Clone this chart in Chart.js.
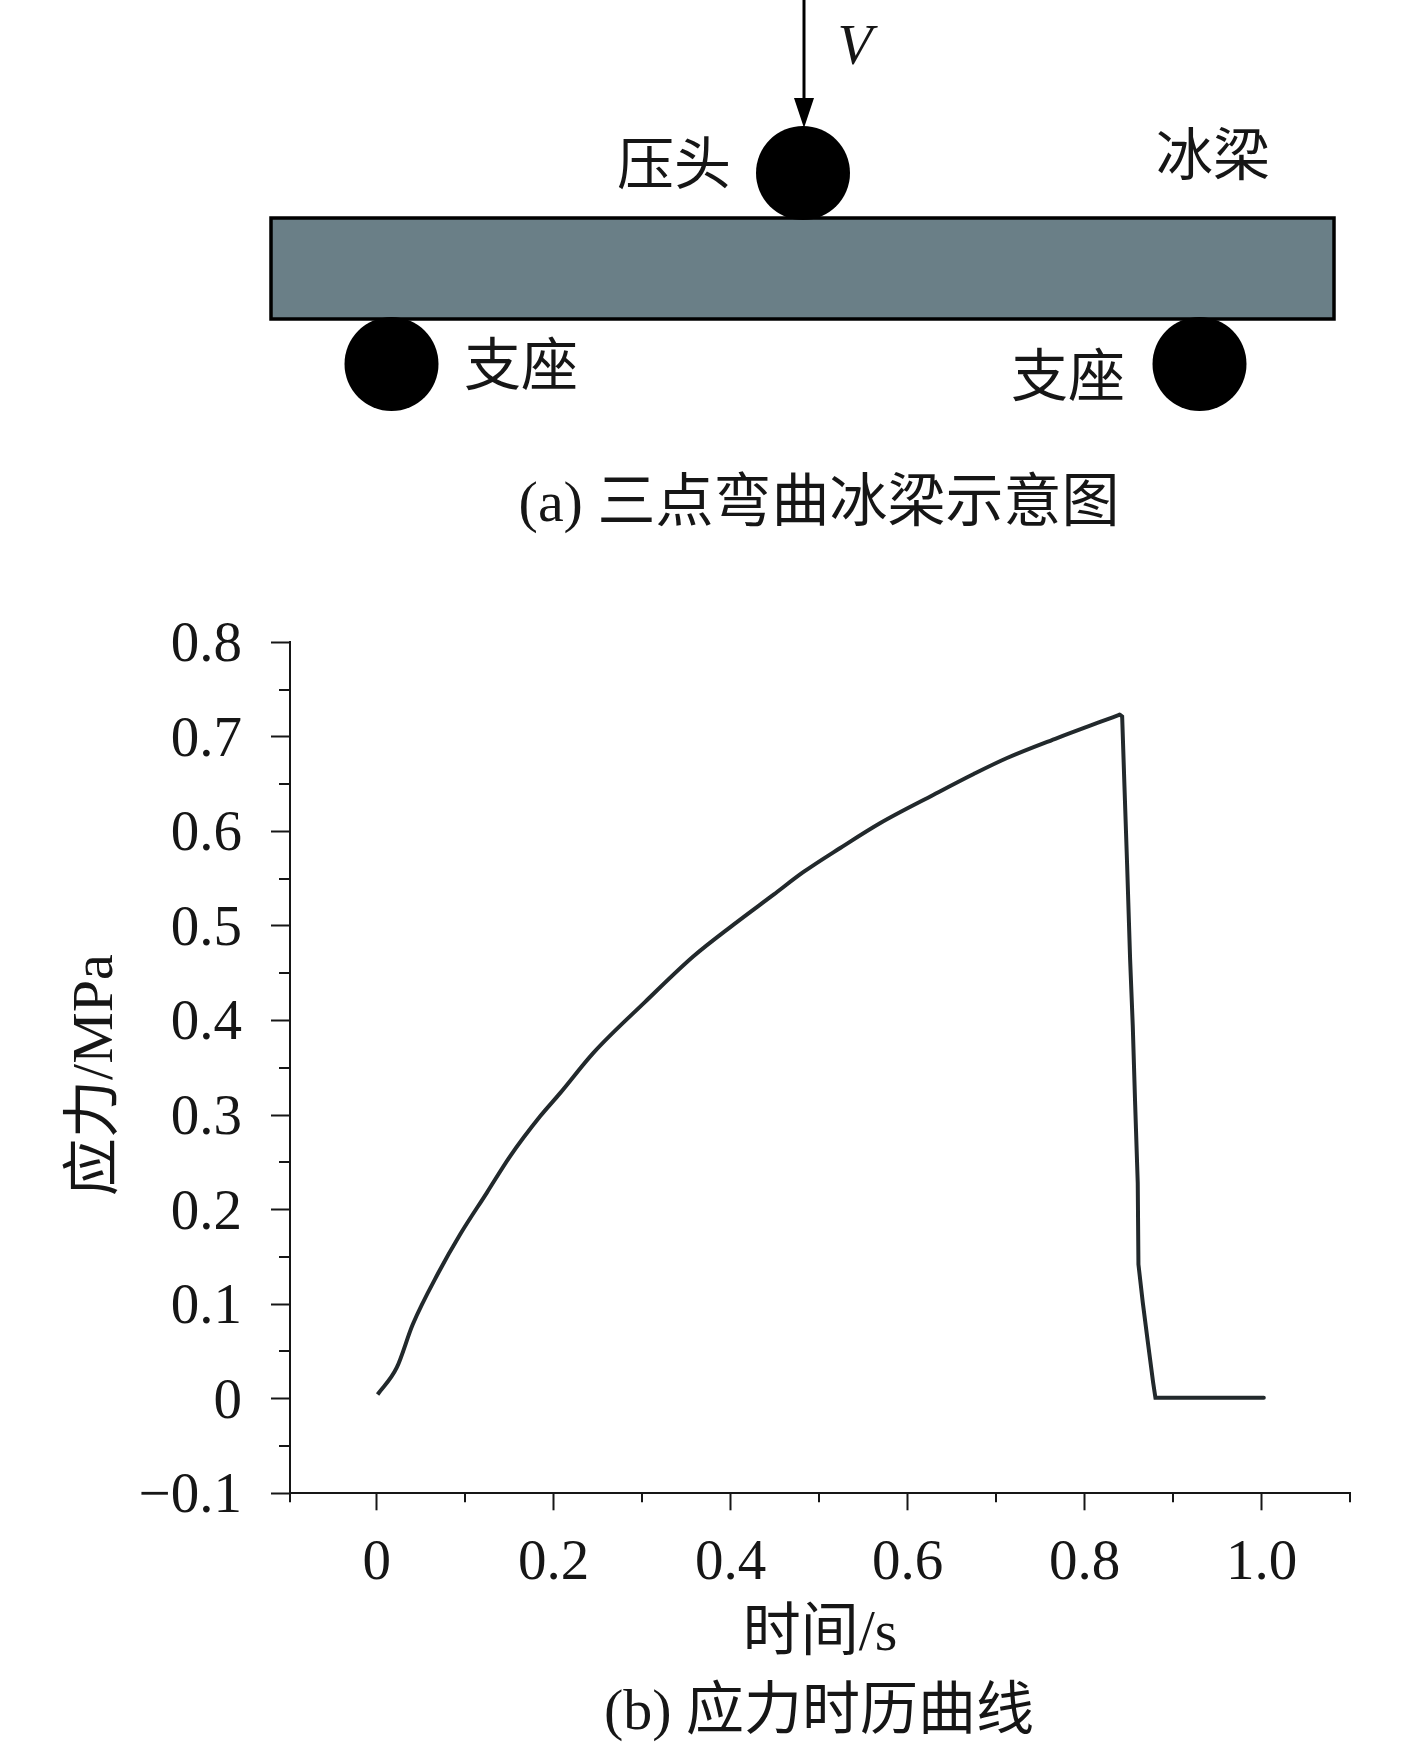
<!DOCTYPE html>
<html>
<head>
<meta charset="utf-8">
<title>三点弯曲冰梁</title>
<script src="https://cdn.jsdelivr.net/npm/chart.js@4/dist/chart.umd.js"></script>
<style>
  html, body { margin: 0; padding: 0; background: #fff; }
  canvas { display: block; }
</style>
</head>
<body>
<canvas id="chart" width="1417" height="1750"></canvas>
<script>
// Values, loading part up to the peak
const riseTimes = [0.001, 0.0226, 0.0407, 0.0697, 0.0942, 0.1244, 0.1507, 0.1847, 0.2073, 0.2449,
  0.3034, 0.358, 0.4033, 0.4485, 0.4824, 0.5239, 0.5692, 0.6294, 0.6747, 0.7124,
  0.769, 0.816, 0.8398];
const riseStress = [0.0045, 0.0328, 0.0785, 0.1332, 0.1737, 0.2178, 0.2564, 0.2987, 0.3232, 0.3658,
  0.4197, 0.4679, 0.5014, 0.5331, 0.5571, 0.5825, 0.6089, 0.6388, 0.6607, 0.6776,
  0.6987, 0.7152, 0.7234];

// Fracture drop after the peak and the flat tail
const dropTimes = [0.8398, 0.8425, 0.8451, 0.8481, 0.8515, 0.8545, 0.8572, 0.8601,
  0.8609, 0.8658, 0.8714, 0.8775, 0.8801, 1.0026];
const dropStress = [0.7234, 0.7216, 0.6476, 0.5648, 0.4644, 0.3939, 0.3111, 0.2283,
  0.142, 0.1018, 0.0609, 0.0172, 0.001, 0.001];

// Axis ticks
const xMajorTicks = [0, 0.2, 0.4, 0.6, 0.8, 1.0];
const xTickLabels = ['0', '0.2', '0.4', '0.6', '0.8', '1.0'];
const xMinorTicks = [-0.098, 0.1, 0.3, 0.5, 0.7, 0.9, 1.1];
const yMajorTicks = [-0.1, 0, 0.1, 0.2, 0.3, 0.4, 0.5, 0.6, 0.7, 0.8];
const yTickLabels = ['−0.1', '0', '0.1', '0.2', '0.3', '0.4', '0.5', '0.6', '0.7', '0.8'];
const yMinorTicks = [-0.05, 0.05, 0.15, 0.25, 0.35, 0.45, 0.55, 0.65, 0.75];

const FONT = '"Liberation Serif", "Noto Sans CJK SC", serif';
const FONT_SIZE = 57;
const TITLE_SIZE = 58;
const INK = '#161616';
const CURVE = '#22292c';

// Texts of the figure that are not part of the axes
const figureLabels = [
  { text: '压头', x: 674, y: 169, size: FONT_SIZE },
  { text: '冰梁', x: 1213, y: 160, size: FONT_SIZE },
  { text: '支座', x: 521, y: 370, size: FONT_SIZE },
  { text: '支座', x: 1068, y: 381, size: FONT_SIZE },
  { text: '(a) 三点弯曲冰梁示意图', x: 819, y: 506, size: TITLE_SIZE },
  { text: '(b) 应力时历曲线', x: 819, y: 1714, size: TITLE_SIZE }
];

function toPoints(xs, ys) {
  return xs.map(function(x, i) { return { x: x, y: ys[i] }; });
}

// Draws the beam schematic above the chart
function drawSchematic(ctx) {
  ctx.fillStyle = '#6a7f87';
  ctx.strokeStyle = '#000';
  ctx.lineWidth = 3.5;
  ctx.fillRect(271, 218, 1063, 101);
  ctx.strokeRect(271, 218, 1063, 101);

  ctx.fillStyle = '#000';
  [[803, 173], [391.5, 364], [1199.5, 364]].forEach(function(c) {
    ctx.beginPath();
    ctx.arc(c[0], c[1], 47, 0, Math.PI * 2);
    ctx.fill();
  });

  // loading arrow
  ctx.lineWidth = 3;
  ctx.beginPath();
  ctx.moveTo(804, 0);
  ctx.lineTo(804, 100);
  ctx.stroke();
  ctx.beginPath();
  ctx.moveTo(794, 98);
  ctx.lineTo(814, 98);
  ctx.lineTo(804, 128);
  ctx.closePath();
  ctx.fill();

  ctx.fillStyle = INK;
  ctx.textAlign = 'center';
  ctx.textBaseline = 'middle';
  ctx.font = 'italic ' + FONT_SIZE + 'px ' + FONT;
  ctx.fillText('V', 855, 49);
  figureLabels.forEach(function(l) {
    ctx.font = l.size + 'px ' + FONT;
    ctx.fillText(l.text, l.x, l.y);
  });
}

// Chart.js has one tick length per axis, so the short ticks are added here
function drawMinorTicks(ctx, chart) {
  const xScale = chart.scales.x;
  const yScale = chart.scales.y;
  ctx.strokeStyle = INK;
  ctx.lineWidth = 2;
  ctx.beginPath();
  xMinorTicks.forEach(function(v) {
    const px = Math.round(xScale.getPixelForValue(v));
    ctx.moveTo(px, xScale.top);
    ctx.lineTo(px, xScale.top + 9);
  });
  yMinorTicks.forEach(function(v) {
    const py = Math.round(yScale.getPixelForValue(v));
    ctx.moveTo(yScale.right, py);
    ctx.lineTo(yScale.right - 11, py);
  });
  ctx.stroke();
}

const figurePlugin = {
  id: 'figure',
  afterDraw: function(chart) {
    const ctx = chart.ctx;
    ctx.save();
    drawMinorTicks(ctx, chart);
    drawSchematic(ctx);
    ctx.restore();
  }
};

new Chart(document.getElementById('chart'), {
  type: 'scatter',
  data: {
    datasets: [{
      // smooth rise, kept apart so the corner at the peak stays sharp
      data: toPoints(riseTimes, riseStress),
      showLine: true,
      borderColor: CURVE,
      borderWidth: 4,
      pointRadius: 0,
      cubicInterpolationMode: 'monotone'
    }, {
      data: toPoints(dropTimes, dropStress),
      showLine: true,
      borderColor: CURVE,
      borderWidth: 4,
      borderCapStyle: 'round',
      pointRadius: 0,
      tension: 0
    }]
  },
  options: {
    responsive: false,
    animation: false,
    layout: { padding: { left: 0, top: 642.3, right: 67, bottom: 0 } },
    plugins: { legend: { display: false }, tooltip: { enabled: false } },
    scales: {
      x: {
        type: 'linear',
        min: -0.098,
        max: 1.1,
        afterBuildTicks: function(axis) {
          axis.ticks = xMajorTicks.map(function(v) { return { value: v }; });
        },
        afterFit: function(axis) {
          axis.height = 256.7;
          axis.paddingLeft = 0;
          axis.paddingRight = 0;
        },
        border: { color: INK, width: 2 },
        grid: { drawOnChartArea: false, tickLength: 17, tickWidth: 2, tickColor: INK },
        ticks: {
          color: INK,
          font: { family: FONT, size: FONT_SIZE },
          padding: 20,
          maxRotation: 0,
          autoSkip: false,
          callback: function(value, index) { return xTickLabels[index]; }
        },
        title: {
          display: true,
          text: '时间/s',
          color: INK,
          font: { family: FONT, size: TITLE_SIZE },
          padding: { top: 0, bottom: 80 }
        }
      },
      y: {
        type: 'linear',
        min: -0.1,
        max: 0.8,
        afterBuildTicks: function(axis) {
          axis.ticks = yMajorTicks.map(function(v) { return { value: v }; });
        },
        afterFit: function(axis) {
          axis.width = 290;
          axis.paddingTop = 0;
          axis.paddingBottom = 0;
        },
        border: { color: INK, width: 2 },
        grid: { drawOnChartArea: false, tickLength: 19, tickWidth: 2, tickColor: INK },
        ticks: {
          color: INK,
          font: { family: FONT, size: FONT_SIZE },
          padding: 29,
          labelOffset: 4,
          autoSkip: false,
          callback: function(value, index) { return yTickLabels[index]; }
        },
        title: {
          display: true,
          // trailing space nudges the rotated title down to where it sits in the figure
          text: '应力/MPa ',
          color: INK,
          font: { family: FONT, size: TITLE_SIZE },
          padding: { top: 62, bottom: 0 }
        }
      }
    }
  },
  plugins: [figurePlugin]
});
</script>
</body>
</html>
